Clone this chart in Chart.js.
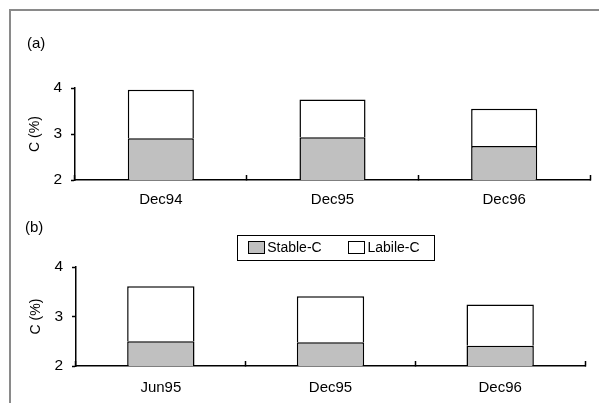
<!DOCTYPE html>
<html>
<head>
<meta charset="utf-8">
<script src="https://cdn.jsdelivr.net/npm/chart.js@4.4.1/dist/chart.umd.min.js"></script>
<style>
  html, body { margin: 0; padding: 0; background: #fff; width: 599px; height: 403px; overflow: hidden; }
  .rule { position: absolute; background: #8a8a8a; }
  #ruleTop { left: 9px; top: 9px; width: 590px; height: 2px; }
  #ruleLeft { left: 9px; top: 9px; width: 2px; height: 394px; }
  canvas { position: absolute; }
  #chartA { left: 12px; top: 11px; }
  #chartB { left: 12px; top: 210px; }
</style>
</head>
<body>
<div class="rule" id="ruleTop"></div>
<div class="rule" id="ruleLeft"></div>
<canvas id="chartA" width="587" height="199"></canvas>
<canvas id="chartB" width="587" height="193"></canvas>
<script>
// Sampling dates for each panel
const datesA = ['Dec94', 'Dec95', 'Dec96'];
const datesB = ['Jun95', 'Dec95', 'Dec96'];

// Stable and labile carbon (C %); stacked they give total soil C
const stableA = [2.91, 2.93, 2.74];
const labileA = [1.05, 0.82, 0.81];
const stableB = [2.50, 2.48, 2.41];
const labileB = [1.11, 0.93, 0.83];

// Y axis tick values (C %)
const yTicks = [2, 3, 4];

const seriesNames = ['Stable-C', 'Labile-C'];
const seriesFill = ['#c0c0c0', '#ffffff'];

const FONT = '"Liberation Sans", Arial, Helvetica, sans-serif';
Chart.defaults.font.family = FONT;
Chart.defaults.color = '#000';

// Framed legend drawn above the lower panel
const boxedLegend = {
  id: 'boxedLegend',
  afterDraw(chart, args, opts) {
    if (!opts.display) return;
    const ctx = chart.ctx;
    ctx.save();
    ctx.font = '14px ' + FONT;
    ctx.textBaseline = 'middle';
    ctx.textAlign = 'left';
    const sw = 16, sh = 12, gapText = 3.5, gapItem = 26.3, padL = 11, padR = 14;
    const items = chart.data.datasets.map(ds => ({
      label: ds.label, fill: ds.backgroundColor, w: ctx.measureText(ds.label).width
    }));
    let width = padL + padR;
    items.forEach((it, i) => { width += sw + gapText + it.w + (i < items.length - 1 ? gapItem : 0); });
    const x0 = opts.left, y0 = opts.top, h = opts.height;
    ctx.fillStyle = '#fff';
    ctx.fillRect(x0, y0, width, h);
    ctx.strokeStyle = '#000';
    ctx.lineWidth = 1;
    ctx.strokeRect(Math.round(x0) + 0.5, Math.round(y0) + 0.5, Math.round(width), Math.round(h));
    const cy = y0 + h / 2;
    let x = x0 + padL;
    items.forEach(it => {
      const sx = Math.round(x), sy = Math.round(cy - sh / 2);
      ctx.fillStyle = it.fill;
      ctx.fillRect(sx, sy, sw, sh);
      ctx.strokeRect(sx + 0.5, sy + 0.5, sw, sh);
      ctx.fillStyle = '#000';
      ctx.fillText(it.label, x + sw + gapText, cy + 0.5);
      x += sw + gapText + it.w + gapItem;
    });
    ctx.restore();
  }
};

function makeChart(id, labels, stable, labile, cfg) {
  return new Chart(document.getElementById(id), {
    type: 'bar',
    data: {
      labels: labels,
      datasets: [
        { label: seriesNames[0], data: stable, backgroundColor: seriesFill[0],
          borderColor: '#000', borderWidth: 1.5, borderSkipped: false },
        { label: seriesNames[1], data: labile, backgroundColor: seriesFill[1],
          borderColor: '#000', borderWidth: { top: 1.5, left: 1.5, right: 1.5, bottom: 0 },
          borderSkipped: false }
      ]
    },
    plugins: [boxedLegend],
    options: {
      responsive: false,
      animation: false,
      devicePixelRatio: 1,
      datasets: { bar: { categoryPercentage: 1, barPercentage: cfg.barPct } },
      layout: { padding: { left: cfg.padLeft, right: cfg.padRight, top: 0, bottom: 0 } },
      plugins: {
        legend: { display: false },
        tooltip: { enabled: false },
        title: {
          display: true, text: cfg.title, align: 'start', color: '#000',
          font: { size: 15, weight: 'normal' },
          padding: { top: cfg.titleTop, bottom: cfg.titleBottom }
        },
        boxedLegend: cfg.legend
      },
      scales: {
        x: {
          stacked: true,
          offset: true,
          grid: { display: true, offset: true, drawOnChartArea: false, drawTicks: true,
                  tickLength: -5, tickColor: '#000', tickWidth: 1.5 },
          border: { display: true, color: '#000', width: 1.5 },
          ticks: { font: { size: 15 }, color: '#000', padding: cfg.xPad, maxRotation: 0 },
          afterFit(scale) { scale.height = cfg.xHeight; }
        },
        y: {
          stacked: true,
          min: yTicks[0],
          max: yTicks[yTicks.length - 1],
          afterBuildTicks(scale) { scale.ticks = yTicks.map(v => ({ value: v })); },
          grid: { display: true, drawOnChartArea: false, drawTicks: true,
                  tickLength: 4, tickColor: '#000', tickWidth: 1.5 },
          border: { display: true, color: '#000', width: 1.5 },
          ticks: { font: { size: 15.5 }, color: '#000', padding: 9 },
          title: { display: true, text: 'C (%)', color: '#000', font: { size: 14 },
                   padding: { top: cfg.yTitlePad, bottom: 0 } },
          afterFit(scale) { scale.width = cfg.yWidth; }
        }
      }
    }
  });
}

makeChart('chartA', datesA, stableA, labileA, {
  title: '(a)', barPct: 0.385, padLeft: 15, padRight: 9,
  titleTop: 24, titleBottom: 35, xHeight: 30, xPad: 15.5, yWidth: 48, yTitlePad: 0,
  legend: { display: false }
});

makeChart('chartB', datesB, stableB, labileB, {
  title: '(b)', barPct: 0.397, padLeft: 13, padRight: 14,
  titleTop: 9, titleBottom: 30, xHeight: 37, xPad: 17.7, yWidth: 51, yTitlePad: 2.6,
  legend: { display: true, left: 224.7, top: 25, height: 24.5 }
});
</script>
</body>
</html>
